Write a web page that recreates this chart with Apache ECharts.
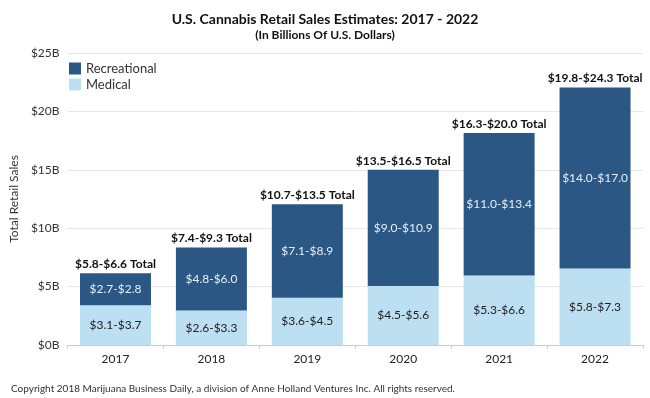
<!DOCTYPE html>
<html>
<head>
<meta charset="utf-8">
<script src="https://cdn.jsdelivr.net/npm/echarts@6/dist/echarts.min.js"></script>
<style>
  html, body { margin: 0; padding: 0; background: #fff; }
  #chart { width: 650px; height: 398px; }
</style>
</head>
<body>
<div id="chart"></div>
<script>
// values (billions of US dollars)
const years = ['2017', '2018', '2019', '2020', '2021', '2022'];
const medical = [3.4, 2.95, 4.05, 5.05, 5.95, 6.55];
const recreational = [2.75, 5.4, 8.0, 9.95, 12.2, 15.5];
const medicalLabels = ['$3.1-$3.7', '$2.6-$3.3', '$3.6-$4.5', '$4.5-$5.6', '$5.3-$6.6', '$5.8-$7.3'];
const recLabels = ['$2.7-$2.8', '$4.8-$6.0', '$7.1-$8.9', '$9.0-$10.9', '$11.0-$13.4', '$14.0-$17.0'];
const totalLabels = ['$5.8-$6.6 Total', '$7.4-$9.3 Total', '$10.7-$13.5 Total',
  '$13.5-$16.5 Total', '$16.3-$20.0 Total', '$19.8-$24.3 Total'];
const yTicks = ['$0B', '$5B', '$10B', '$15B', '$20B', '$25B'];

const font = 'Lato, "Open Sans", sans-serif';
const chart = echarts.init(document.getElementById('chart'));

chart.setOption({
  backgroundColor: '#fff',
  textStyle: { fontFamily: font },
  title: [
    {
      text: 'U.S. Cannabis Retail Sales Estimates: 2017 - 2022',
      left: 'center', top: 7,
      textStyle: { fontSize: 14, fontWeight: 'bold', color: '#111', fontFamily: font }
    },
    {
      text: '(In Billions Of U.S. Dollars)',
      left: 'center', top: 24,
      textStyle: { fontSize: 12, fontWeight: 'bold', color: '#111', fontFamily: font }
    },
    {
      text: 'Copyright 2018 Marijuana Business Daily, a division of Anne Holland Ventures Inc. All rights reserved.',
      left: 6, top: 379,
      textStyle: { fontSize: 10, fontWeight: 'normal', color: '#333', fontFamily: font }
    }
  ],
  legend: {
    orient: 'vertical',
    left: 64, top: 57,
    itemWidth: 12, itemHeight: 12, itemGap: 3,
    icon: 'rect',
    textStyle: { fontSize: 13, color: '#333' },
    data: ['Recreational', 'Medical']
  },
  grid: { left: 61, right: 7, top: 53, bottom: 53 },
  xAxis: {
    type: 'category',
    data: years,
    axisLine: { lineStyle: { color: '#ccc' } },
    axisTick: { show: true, length: 4, lineStyle: { color: '#ccc' } },
    axisLabel: { fontSize: 12, color: '#222', margin: 8 }
  },
  yAxis: {
    type: 'value',
    min: 0, max: 25, interval: 5,
    name: 'Total Retail Sales',
    nameLocation: 'middle',
    nameGap: 38,
    nameTextStyle: { fontSize: 12, color: '#333' },
    axisLine: { show: false },
    axisTick: { show: false },
    axisLabel: {
      fontSize: 12, color: '#333', margin: 8,
      formatter: (v) => yTicks[v / 5]
    },
    splitLine: { lineStyle: { color: '#e6e6e6' } }
  },
  series: [
    {
      name: 'Medical',
      type: 'bar',
      stack: 'sales',
      barWidth: '74%',
      data: medical,
      itemStyle: { color: '#bcdff2' },
      label: {
        show: true, position: 'inside',
        fontSize: 12, color: '#222',
        formatter: (p) => medicalLabels[p.dataIndex]
      }
    },
    {
      name: 'Recreational',
      type: 'bar',
      stack: 'sales',
      barWidth: '74%',
      data: recreational,
      itemStyle: { color: '#2a5784' },
      label: {
        show: true, position: 'inside',
        fontSize: 12, color: '#e8eef5',
        formatter: (p) => recLabels[p.dataIndex]
      }
    },
    {
      // total labels sit on top of the stack
      name: 'Total',
      type: 'bar',
      stack: 'sales',
      barWidth: '74%',
      data: years.map(() => 0),
      itemStyle: { color: 'transparent' },
      label: {
        show: true, position: 'top', distance: 3,
        fontSize: 12, fontWeight: 'bold', color: '#111',
        formatter: (p) => totalLabels[p.dataIndex]
      },
      tooltip: { show: false }
    }
  ]
});
</script>
</body>
</html>
